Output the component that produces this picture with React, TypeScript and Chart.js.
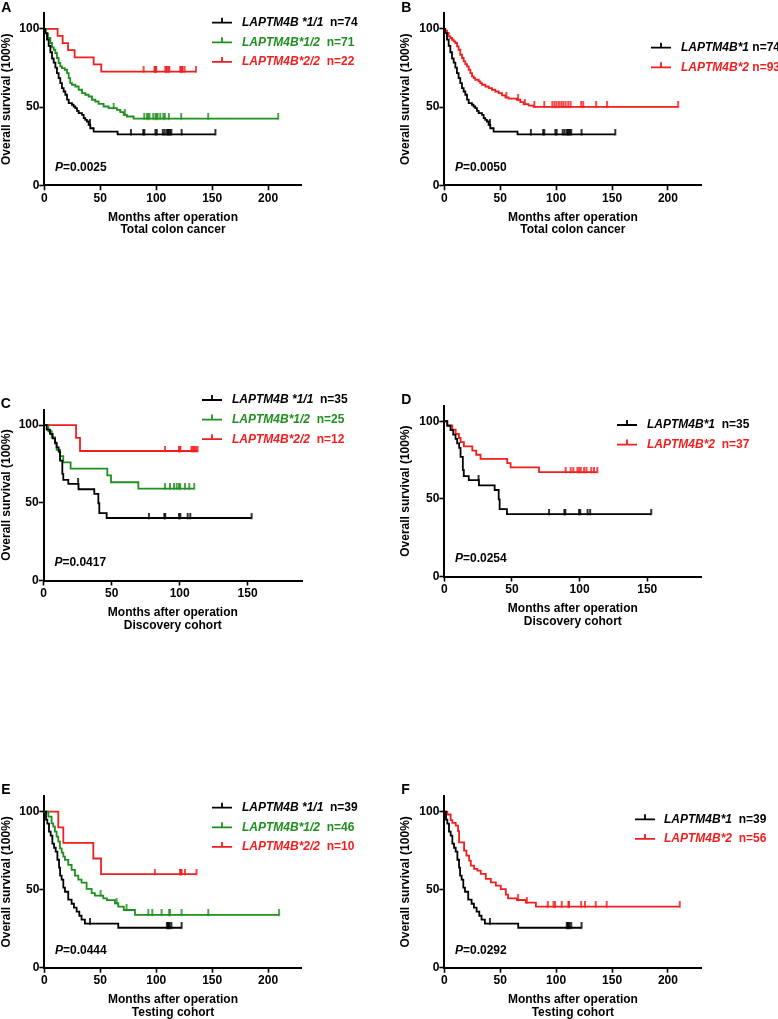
import React, { useEffect, useRef } from "react";
import { Chart, registerables } from "chart.js";

Chart.register(...registerables);

const FONT = '"Liberation Sans", Arial, Helvetica, sans-serif';
const BLACK = "#000000";
const GREEN = "#1f8f1f";
const RED = "#f01e1e";

// ---------- tick labels ----------
const X_TICKS_LONG = [0, 50, 100, 150, 200];
const X_TICKS_SHORT = [0, 50, 100, 150];
const Y_TICKS = [0, 50, 100];

// ---------- Total colon cancer ----------
// LAPTM4B *1/1 (n=74) — also LAPTM4B*1 in panel B
const totalG11Times = [0.6, 2.4, 3.9, 5.4, 6.9, 8.4, 9.9, 11.3, 12.8, 14.3, 15.8, 17.3, 18.8, 20.3, 21.8, 24.7, 26.2, 27.7, 29.2, 30.7, 33.7, 35.2, 36.6, 38.1, 39.6, 41.1, 44.1, 65.5];
const totalG11Surv = [97.3, 93.2, 89.2, 85.1, 81.1, 78.4, 75.3, 71.8, 68.6, 65.4, 62.2, 60.0, 57.9, 54.8, 52.6, 51.5, 50.4, 49.3, 47.6, 46.2, 45.1, 43.0, 41.9, 40.8, 38.7, 36.5, 34.3, 32.6];
const totalG11Censor = [40.8, 77.4, 88.4, 89.4, 99.3, 100.5, 105.9, 107.6, 109.5, 110.5, 111.2, 112.4, 113.5, 122.7, 152.9];

// LAPTM4B*1/2 (n=71)
const totalG12Times = [1.5, 3.3, 5.4, 6.9, 8.4, 9.9, 11.3, 12.8, 14.3, 15.8, 18.2, 20.3, 21.8, 23.2, 24.7, 27.7, 30.7, 33.7, 36.6, 39.6, 42.6, 45.6, 48.5, 53.0, 57.5, 64.9, 67.9, 70.9, 73.8, 79.8];
const totalG12Surv = [97.2, 94.2, 91.0, 88.2, 86.7, 84.6, 81.4, 78.2, 76.0, 74.9, 73.9, 71.8, 68.6, 65.4, 64.3, 63.2, 61.1, 59.0, 57.9, 56.8, 54.7, 53.6, 52.1, 50.4, 49.3, 48.3, 46.8, 45.1, 44.0, 42.6];
const totalG12Censor = [62.0, 72.0, 89.3, 91.7, 92.9, 94.0, 97.3, 99.4, 100.3, 101.2, 103.6, 106.3, 107.7, 111.3, 122.3, 146.4, 209.0];

// LAPTM4B*2/2 (n=22)
const totalG22Times = [11.9, 16.4, 21.2, 27.1, 44.1, 50.9];
const totalG22Surv = [95.5, 90.9, 86.4, 81.8, 77.3, 72.7];
const totalG22Censor = [88.7, 98.5, 99.0, 99.4, 100.0, 108.1, 109.0, 109.5, 111.0, 111.6, 121.5, 122.0, 123.0, 123.5, 125.3, 135.5];

// LAPTM4B*2 (n=93)
const totalG2Times = [0.9, 2.4, 3.9, 5.4, 6.9, 8.4, 9.9, 11.4, 12.8, 14.3, 15.8, 17.3, 18.8, 20.3, 21.8, 23.3, 24.8, 26.3, 27.7, 30.7, 32.2, 33.7, 36.7, 39.7, 42.6, 45.6, 48.6, 51.6, 54.6, 57.5, 65.0, 68.0, 70.9, 75.4, 79.9];
const totalG2Surv = [98.9, 97.4, 95.3, 94.2, 93.1, 92.1, 91.0, 88.9, 86.7, 83.5, 81.4, 79.2, 77.5, 76.0, 73.9, 71.8, 69.6, 68.6, 67.5, 66.4, 65.4, 64.3, 63.2, 62.2, 61.1, 60.0, 59.0, 57.5, 56.2, 55.4, 54.7, 53.2, 51.9, 51.0, 50.2];
const totalG2Censor = [55.5, 66.0, 72.0, 80.5, 89.4, 96.6, 98.6, 100.4, 102.5, 104.6, 106.4, 108.4, 110.8, 112.9, 122.4, 124.2, 135.8, 145.6, 209.1];

// ---------- Discovery cohort ----------
const discG11Times = [2.2, 4.6, 6.6, 8.3, 9.5, 11.0, 12.0, 13.7, 14.4, 18.1, 25.6, 37.2, 40.2, 40.9, 46.3];
const discG11Surv = [97.1, 94.3, 91.4, 88.6, 85.7, 82.9, 77.1, 68.6, 64.7, 62.1, 58.7, 55.7, 49.7, 43.4, 40.2];
const discG11Censor = [25.3, 77.4, 88.7, 89.4, 99.5, 100.5, 105.9, 107.8, 152.9];

const discG12Times = [3.4, 5.9, 8.3, 9.5, 12.0, 14.4, 19.8, 46.8, 49.5, 69.6];
const discG12Surv = [96.0, 92.0, 88.0, 84.0, 80.0, 76.0, 72.0, 67.6, 63.2, 59.1];
const discG12Censor = [89.2, 92.9, 95.8, 97.8, 99.5, 100.4, 103.9, 107.1, 110.7];

const discG22Times = [23.8, 26.7];
const discG22Surv = [91.7, 83.3];
const discG22Censor = [89.2, 99.5, 100.0, 100.5, 108.6, 109.5, 110.3, 111.0, 112.0, 113.2];

const discG2Times = [2.2, 5.9, 8.4, 10.8, 12.0, 14.5, 20.7, 23.6, 26.8, 46.5, 49.0, 70.0];
const discG2Surv = [97.3, 94.6, 91.9, 89.2, 86.5, 83.8, 81.1, 78.4, 75.7, 73.0, 70.3, 67.2];
const discG2Censor = [89.7, 93.4, 95.3, 98.3, 99.6, 100.8, 103.3, 105.0, 108.6, 110.6, 113.1];

// ---------- Testing cohort ----------
const testG11Times = [1.5, 2.7, 4.2, 5.7, 7.2, 8.7, 10.2, 11.7, 13.2, 14.1, 15.5, 17.0, 18.5, 21.4, 24.4, 26.5, 28.9, 31.3, 33.3, 36.3, 66.1];
const testG11Surv = [94.9, 92.3, 87.2, 84.6, 79.5, 76.9, 74.4, 69.2, 64.1, 59.0, 56.4, 51.3, 48.7, 43.6, 41.0, 38.5, 35.9, 33.3, 30.8, 28.2, 25.6];
const testG11Censor = [40.8, 109.5, 110.5, 111.0, 112.0, 113.5, 122.7];

const testG12Times = [3.6, 6.5, 8.0, 9.5, 11.0, 12.5, 14.0, 15.5, 17.0, 18.4, 21.4, 24.4, 27.4, 30.4, 33.3, 37.8, 42.3, 45.2, 52.7, 56.0, 63.1, 66.1, 71.0, 81.0];
const testG12Surv = [96.8, 92.5, 90.4, 87.2, 84.0, 80.8, 76.5, 73.8, 71.2, 69.1, 65.9, 62.7, 59.0, 56.5, 54.5, 50.5, 47.8, 46.2, 44.4, 43.3, 41.3, 39.1, 37.0, 33.8];
const testG12Censor = [50.3, 64.6, 73.5, 92.9, 96.5, 104.8, 111.6, 112.2, 122.7, 146.5, 209.8];

const testG22Times = [12.5, 17.0, 43.8, 50.7];
const testG22Surv = [90.0, 80.0, 70.0, 60.0];
const testG22Censor = [98.8, 121.2, 122.0, 122.7, 125.7, 136.0];

const testG2Times = [2.7, 5.7, 7.2, 10.2, 12.3, 13.2, 17.7, 19.8, 22.2, 23.7, 26.6, 29.6, 32.6, 37.1, 41.6, 46.1, 50.5, 55.0, 57.0, 65.0, 73.0, 81.9];
const testG2Surv = [98.2, 94.6, 92.9, 91.1, 87.5, 80.4, 75.0, 71.8, 68.6, 65.4, 63.3, 62.2, 60.1, 56.9, 54.7, 52.6, 50.4, 46.8, 44.4, 43.4, 41.7, 39.1];
const testG2Censor = [66.0, 73.8, 92.6, 97.6, 99.0, 105.0, 110.9, 111.5, 122.3, 125.8, 135.4, 145.2, 210.5];

// ---------- types & helpers ----------
type Series = { gene: string; n: string; color: string; times: number[]; surv: number[]; censor: number[] };
type PanelCfg = {
  letter: string; subtitle: string; p: string; xMax: number; xTicks: number[];
  left: number; top: number; h: number; padLeft: number;
  area: { left: number; top: number; right: number; bottom: number };
  legend: { x: number; y: number; textX: number; gap: string };
  series: Series[];
};

const W = 389;
const X_AXIS_H = 51;
const LINE_W = 1.8;

function survivalAt(times: number[], surv: number[], t: number) {
  let s = 100;
  for (let i = 0; i < times.length; i++) if (times[i] <= t) s = surv[i];
  return s;
}

function censorMark(color: string) {
  const c = document.createElement("canvas");
  c.width = 4;
  c.height = 11;
  const g = c.getContext("2d")!;
  g.strokeStyle = color;
  g.lineWidth = 1.6;
  g.beginPath();
  g.moveTo(2, 0);
  g.lineTo(2, 6.5);
  g.stroke();
  return c;
}

const S11 = (times: number[], surv: number[], censor: number[], gene: string, n: string, color: string): Series => ({ gene, n, color, times, surv, censor });

const PANELS: PanelCfg[] = [
  {
    letter: "A", subtitle: "Total colon cancer", p: "0.0025", xMax: 230, xTicks: X_TICKS_LONG,
    left: 0, top: 0, h: 330, padLeft: 0,
    area: { left: 44.3, top: 13.3, right: 301.7, bottom: 185.3 },
    legend: { x: 212, y: 22.7, textX: 242, gap: "  " },
    series: [
      S11(totalG11Times, totalG11Surv, totalG11Censor, "LAPTM4B *1/1", "n=74", BLACK),
      S11(totalG12Times, totalG12Surv, totalG12Censor, "LAPTM4B*1/2", "n=71", GREEN),
      S11(totalG22Times, totalG22Surv, totalG22Censor, "LAPTM4B*2/2", "n=22", RED),
    ],
  },
  {
    letter: "B", subtitle: "Total colon cancer", p: "0.0050", xMax: 230, xTicks: X_TICKS_LONG,
    left: 389, top: 0, h: 330, padLeft: 10,
    area: { left: 55.3, top: 13.3, right: 312.5, bottom: 185.3 },
    legend: { x: 262, y: 47.7, textX: 292, gap: " " },
    series: [
      S11(totalG11Times, totalG11Surv, totalG11Censor, "LAPTM4B*1", "n=74", BLACK),
      S11(totalG2Times, totalG2Surv, totalG2Censor, "LAPTM4B*2", "n=93", RED),
    ],
  },
  {
    letter: "C", subtitle: "Discovery cohort", p: "0.0417", xMax: 190, xTicks: X_TICKS_SHORT,
    left: 0, top: 330, h: 330, padLeft: 0,
    area: { left: 43.7, top: 79.5, right: 302, bottom: 250.5 },
    legend: { x: 202, y: 70, textX: 232, gap: "  " },
    series: [
      S11(discG11Times, discG11Surv, discG11Censor, "LAPTM4B *1/1", "n=35", BLACK),
      S11(discG12Times, discG12Surv, discG12Censor, "LAPTM4B*1/2", "n=25", GREEN),
      S11(discG22Times, discG22Surv, discG22Censor, "LAPTM4B*2/2", "n=12", RED),
    ],
  },
  {
    letter: "D", subtitle: "Discovery cohort", p: "0.0254", xMax: 190, xTicks: X_TICKS_SHORT,
    left: 389, top: 330, h: 330, padLeft: 10,
    area: { left: 55.3, top: 75.7, right: 312.4, bottom: 246.5 },
    legend: { x: 228, y: 95, textX: 258, gap: "  " },
    series: [
      S11(discG11Times, discG11Surv, discG11Censor, "LAPTM4B*1", "n=35", BLACK),
      S11(discG2Times, discG2Surv, discG2Censor, "LAPTM4B*2", "n=37", RED),
    ],
  },
  {
    letter: "E", subtitle: "Testing cohort", p: "0.0444", xMax: 230, xTicks: X_TICKS_LONG,
    left: 0, top: 660, h: 359, padLeft: 0,
    area: { left: 44.3, top: 136.1, right: 301.7, bottom: 307.7 },
    legend: { x: 212, y: 147.7, textX: 242, gap: "  " },
    series: [
      S11(testG11Times, testG11Surv, testG11Censor, "LAPTM4B *1/1", "n=39", BLACK),
      S11(testG12Times, testG12Surv, testG12Censor, "LAPTM4B*1/2", "n=46", GREEN),
      S11(testG22Times, testG22Surv, testG22Censor, "LAPTM4B*2/2", "n=10", RED),
    ],
  },
  {
    letter: "F", subtitle: "Testing cohort", p: "0.0292", xMax: 230, xTicks: X_TICKS_LONG,
    left: 389, top: 660, h: 359, padLeft: 10,
    area: { left: 55.3, top: 136.1, right: 312.5, bottom: 307.7 },
    legend: { x: 246, y: 159.3, textX: 275, gap: "  " },
    series: [
      S11(testG11Times, testG11Surv, testG11Censor, "LAPTM4B*1", "n=39", BLACK),
      S11(testG2Times, testG2Surv, testG2Censor, "LAPTM4B*2", "n=56", RED),
    ],
  },
];

function buildConfig(cfg: PanelCfg): any {
  const datasets: any[] = [];
  cfg.series.forEach((s) => {
    const end = Math.max(...s.censor, ...s.times);
    const pts = [{ x: 0, y: 100 }, ...s.times.map((t, i) => ({ x: t, y: s.surv[i] })), { x: end, y: survivalAt(s.times, s.surv, end) }];
    datasets.push({
      data: pts, borderColor: s.color, borderWidth: LINE_W, stepped: "before", tension: 0,
      pointRadius: 0, pointHoverRadius: 0, fill: false,
    });
    datasets.push({
      data: s.censor.map((t) => ({ x: t, y: survivalAt(s.times, s.surv, t) })),
      showLine: false, pointStyle: censorMark(s.color), pointRadius: 3, pointHoverRadius: 3,
      borderColor: s.color, backgroundColor: s.color,
    });
  });

  const axisFont = { family: FONT, size: 12, weight: "bold" as const, lineHeight: 1.05 };
  const common = {
    grid: { display: true, drawOnChartArea: false, drawTicks: true, tickLength: 5, tickColor: "#000", tickWidth: 1.6, color: "#000" },
    border: { display: true, color: "#000", width: 2 },
  };

  const textPlugin = {
    id: "panelText" + cfg.letter,
    afterDraw(chart: any) {
      const ctx = chart.ctx as CanvasRenderingContext2D;
      const a = chart.chartArea;
      ctx.save();
      ctx.fillStyle = "#000";
      ctx.textBaseline = "middle";
      ctx.textAlign = "left";
      ctx.font = `bold 14px ${FONT}`;
      ctx.fillText(cfg.letter, a.left - 43, a.top - 5.5);

      // P value
      const px = a.left + 10.7;
      const py = a.bottom - 17.5;
      ctx.font = `italic bold 12px ${FONT}`;
      ctx.fillText("P", px, py);
      const pw = ctx.measureText("P").width;
      ctx.font = `bold 12px ${FONT}`;
      ctx.fillText("=" + cfg.p, px + pw, py);

      // legend
      cfg.series.forEach((s, i) => {
        const y = cfg.legend.y + i * 19.6;
        ctx.strokeStyle = s.color;
        ctx.lineWidth = LINE_W;
        ctx.beginPath();
        ctx.moveTo(cfg.legend.x, y);
        ctx.lineTo(cfg.legend.x + 20, y);
        ctx.moveTo(cfg.legend.x + 10, y);
        ctx.lineTo(cfg.legend.x + 10, y - 5);
        ctx.stroke();
        ctx.fillStyle = s.color;
        ctx.font = `italic bold 12px ${FONT}`;
        ctx.fillText(s.gene, cfg.legend.textX, y);
        const gw = ctx.measureText(s.gene + cfg.legend.gap).width;
        ctx.font = `bold 12px ${FONT}`;
        ctx.fillText(s.n, cfg.legend.textX + gw, y);
      });
      ctx.restore();
    },
  };

  return {
    type: "line",
    data: { datasets },
    plugins: [textPlugin],
    options: {
      animation: false,
      responsive: false,
      devicePixelRatio: 1,
      events: [],
      layout: {
        padding: {
          left: cfg.padLeft,
          top: cfg.area.top,
          right: W - cfg.area.right,
          bottom: cfg.h - cfg.area.bottom - X_AXIS_H,
        },
      },
      plugins: { legend: { display: false }, tooltip: { enabled: false }, title: { display: false } },
      scales: {
        x: {
          type: "linear", min: 0, max: cfg.xMax,
          afterBuildTicks: (s: any) => { s.ticks = cfg.xTicks.map((v) => ({ value: v })); },
          afterFit: (s: any) => { s.height = X_AXIS_H; },
          ticks: { font: axisFont, color: "#000", padding: 2, maxRotation: 0, autoSkip: false },
          title: { display: true, text: ["Months after operation", cfg.subtitle], font: axisFont, color: "#000", padding: 0 },
          ...common,
        },
        y: {
          type: "linear", min: 0, max: 110,
          afterBuildTicks: (s: any) => { s.ticks = Y_TICKS.map((v) => ({ value: v })); },
          afterFit: (s: any) => { s.width = cfg.area.left - cfg.padLeft; },
          ticks: { font: axisFont, color: "#000", padding: 0, autoSkip: false },
          title: { display: true, text: "Overall survival (100%)", font: axisFont, color: "#000", padding: 0 },
          ...common,
        },
      },
    },
  };
}

function Panel({ cfg }: { cfg: PanelCfg }) {
  const ref = useRef<HTMLCanvasElement>(null);
  useEffect(() => {
    const chart = new Chart(ref.current!, buildConfig(cfg));
    return () => chart.destroy();
  }, [cfg]);
  return (
    <div style={{ position: "absolute", left: cfg.left, top: cfg.top, width: W, height: cfg.h }}>
      <canvas ref={ref} width={W} height={cfg.h} style={{ display: "block", width: W, height: cfg.h }} />
    </div>
  );
}

export default function App() {
  return (
    <div style={{ position: "absolute", left: 0, top: 0, width: 778, height: 1019, background: "#fff", overflow: "hidden" }}>
      {PANELS.map((p) => (
        <Panel key={p.letter} cfg={p} />
      ))}
    </div>
  );
}
